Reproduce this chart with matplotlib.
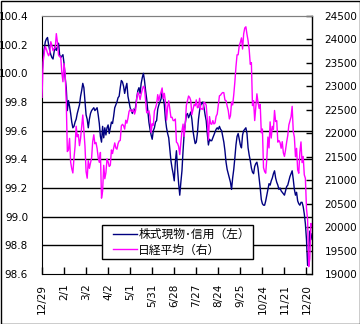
import matplotlib
matplotlib.use("Agg")
import matplotlib.pyplot as plt
from matplotlib.patches import Rectangle

# x axis: one point per trading day, a label every 20 days
tick_labels = ["12/29", "2/1", "3/2", "4/2", "5/1", "5/31", "6/28",
               "7/27", "8/24", "9/25", "10/24", "11/21", "12/20"]
tick_step = 20

series_names = ["株式現物･信用（左）", "日経平均（右）"]

# left axis series
credit = [
    100.00, 100.10, 100.17, 100.22, 100.24, 100.25, 100.20, 100.16, 100.13, 100.11,
    100.10, 100.15, 100.19, 100.16, 100.18, 100.21, 100.13, 100.11, 100.12, 100.13,
    100.07, 99.97, 99.90, 99.74, 99.81, 99.77, 99.72, 99.66, 99.62, 99.63,
    99.66, 99.68, 99.72, 99.75, 99.78, 99.84, 99.88, 99.93, 99.90, 99.80,
    99.71, 99.68, 99.62, 99.68, 99.72, 99.74, 99.75, 99.76, 99.74, 99.75,
    99.76, 99.71, 99.65, 99.56, 99.52, 99.63, 99.55, 99.62, 99.57, 99.62,
    99.64, 99.58, 99.62, 99.66, 99.65, 99.70, 99.76, 99.78, 99.80, 99.83,
    99.84, 99.90, 99.95, 99.94, 99.91, 99.86, 99.90, 99.93, 99.84, 99.80,
    99.76, 99.74, 99.72, 99.75, 99.73, 99.77, 99.83, 99.88, 99.90, 99.86,
    99.93, 99.97, 100.00, 99.95, 99.88, 99.82, 99.74, 99.66, 99.61, 99.57,
    99.54, 99.60, 99.62, 99.66, 99.67, 99.75, 99.78, 99.80, 99.82, 99.87,
    99.83, 99.78, 99.68, 99.62, 99.58, 99.55, 99.47, 99.39, 99.34, 99.30,
    99.25, 99.38, 99.46, 99.33, 99.23, 99.15, 99.24, 99.32, 99.46, 99.58,
    99.65, 99.71, 99.72, 99.69, 99.71, 99.73, 99.68, 99.60, 99.55, 99.51,
    99.52, 99.58, 99.68, 99.74, 99.78, 99.79, 99.80, 99.76, 99.71, 99.67,
    99.58, 99.50, 99.54, 99.53, 99.53, 99.55, 99.57, 99.59, 99.61, 99.62,
    99.61, 99.63, 99.61, 99.60, 99.56, 99.52, 99.46, 99.38, 99.33, 99.30,
    99.27, 99.24, 99.19, 99.27, 99.33, 99.41, 99.50, 99.56, 99.58, 99.54,
    99.50, 99.48, 99.57, 99.60, 99.61, 99.62, 99.58, 99.48, 99.43, 99.39,
    99.34, 99.31, 99.30, 99.35, 99.37, 99.38, 99.34, 99.27, 99.20, 99.12,
    99.09, 99.08, 99.08, 99.11, 99.15, 99.19, 99.23, 99.22, 99.25, 99.27,
    99.30, 99.32, 99.27, 99.24, 99.22, 99.19, 99.20, 99.18, 99.17, 99.16,
    99.15, 99.18, 99.21, 99.22, 99.25, 99.28, 99.30, 99.32, 99.26, 99.19,
    99.15, 99.17, 99.11, 99.09, 99.08, 99.10, 99.10, 99.07, 99.02, 98.95,
    98.84, 98.66, 98.76, 98.90, 98.84, 98.88,
]

# right axis series
nikkei = [
    22765,
    23506, 23715, 23850, 23788, 23710, 23653, 23714, 23952, 23868, 23763,
    23808, 23816, 24124, 23940, 23669, 23631, 23629, 23291, 23098,
    23486, 23274, 22682, 21610, 21645, 21891, 21382, 21245, 21154, 21464,
    21720, 22150, 21925, 21970, 21736, 21892, 22153, 22389, 22068,
    21724, 21182, 21042, 21417, 21252, 21368, 21469, 21824, 21968, 21777,
    21803, 21676, 21480, 21380, 21591, 20617, 20766, 21317, 21031, 21159, 21454,
    21388, 21292, 21320, 21645, 21568, 21678, 21794, 21687, 21660, 21778,
    21835, 21847, 22158, 22191, 22162, 22088, 22278, 22215, 22319, 22467,
    22508, 22472, 22467, 22508, 22409, 22497, 22758, 22866, 22818, 22717,
    22838, 22930, 23002, 22960, 22689, 22437, 22450, 22481, 22358, 22018, 22201,
    22171, 22475, 22539, 22625, 22823, 22694, 22804, 22878, 22966, 22738,
    22851, 22680, 22278, 22555, 22693, 22516, 22338, 22342, 22271, 22270, 22304,
    21811, 21785, 21717, 21546, 21788, 22052, 22196, 21932, 22187, 22597,
    22697, 22794, 22764, 22697, 22397, 22510, 22614, 22586, 22712, 22544, 22553,
    22746, 22512, 22525, 22507, 22662, 22644, 22598, 22298, 21857, 22356,
    22204, 22192, 22270, 22199, 22219, 22362, 22410, 22601, 22799, 22813,
    22848, 22869, 22865,
    22707, 22697, 22580, 22487, 22307, 22373, 22664, 22604, 22821, 23094,
    23420, 23672, 23674, 23869, 23940, 24033, 23796, 24120,
    24245, 24270, 24110, 23975, 23784, 23469, 23506, 22590, 22694, 22271,
    22549, 22841, 22658, 22532, 22614, 22010, 22091, 21268, 21184, 21149,
    21457, 21920,
    21687, 22243, 21898, 22147, 22085, 22486, 22250, 22269, 21810, 21846,
    21803, 21680, 21821, 21583, 21507, 21646, 21812, 21952, 22177, 22262, 22351,
    22574, 22036, 21919, 21501, 21679, 21219, 21148, 21602, 21816, 21375,
    21506, 21115, 21038, 20393, 20166, 19155, 19327, 20077, 20015,
]

plt.rcParams['font.family'] = ['DejaVu Sans', 'Noto Sans CJK JP']

W, H = 360, 324
fig = plt.figure(figsize=(W / 100, H / 100), dpi=100)
ax = fig.add_axes([42 / W, 50 / H, 270 / W, 258 / H])
ax2 = ax.twinx()

days = list(range(len(nikkei)))
l1, = ax.plot(days, credit, color='#000080', lw=1.0)
l2, = ax2.plot(days, nikkei, color='#ff00ff', lw=1.0)

ax.set_xlim(0, len(nikkei) - 1)
ax.set_ylim(98.6, 100.4)
ax2.set_ylim(19000, 24500)

ax.set_xticks([i * tick_step for i in range(len(tick_labels))])
ax.set_xticklabels(tick_labels, rotation=90, fontsize=7.5)
ax.set_yticks([98.6 + 0.2 * i for i in range(10)])
ax.set_yticklabels([f"{98.6 + 0.2 * i:.1f}" for i in range(10)], fontsize=7.5)
ax2.set_yticks(range(19000, 24501, 500))
ax2.set_yticklabels([str(v) for v in range(19000, 24501, 500)], fontsize=7.5)

ax.tick_params(axis='x', direction='in', length=5, width=1, pad=7)
ax.tick_params(axis='y', direction='in', length=0, pad=10)
ax2.tick_params(axis='y', direction='in', length=4, width=1, pad=9)

for v in [98.8 + 0.2 * i for i in range(8)]:
    ax.axhline(v, color='black', lw=1, zorder=1)

ax.spines['top'].set_color('#808080')
ax.spines['right'].set_visible(False)
for s in ['top', 'left', 'bottom']:
    ax2.spines[s].set_visible(False)
ax2.spines['right'].set_linewidth(1)
ax2.spines['top'].set_visible(True)
ax2.spines['top'].set_color('#808080')

# legend box
ax2.add_patch(Rectangle((60 / 270, 15 / 258), 151 / 270, 34 / 258,
                        transform=ax2.transAxes, facecolor='white',
                        edgecolor='black', lw=1, zorder=4))
ax2.legend([l1, l2], series_names, loc='upper left',
           bbox_to_anchor=(71 / 270, 46 / 258), borderaxespad=0,
           borderpad=0, frameon=False, handlelength=2.0,
           handletextpad=0.15, labelspacing=0.2,
           prop={'family': ['Noto Sans CJK JP', 'DejaVu Sans'], 'size': 8.5})

fig.patches.append(Rectangle((0.5 / W, 0.5 / H), 1 - 1 / W, 1 - 1 / H,
                             transform=fig.transFigure, fill=False,
                             edgecolor='black', lw=1))

fig.savefig('out.png', dpi=100)
